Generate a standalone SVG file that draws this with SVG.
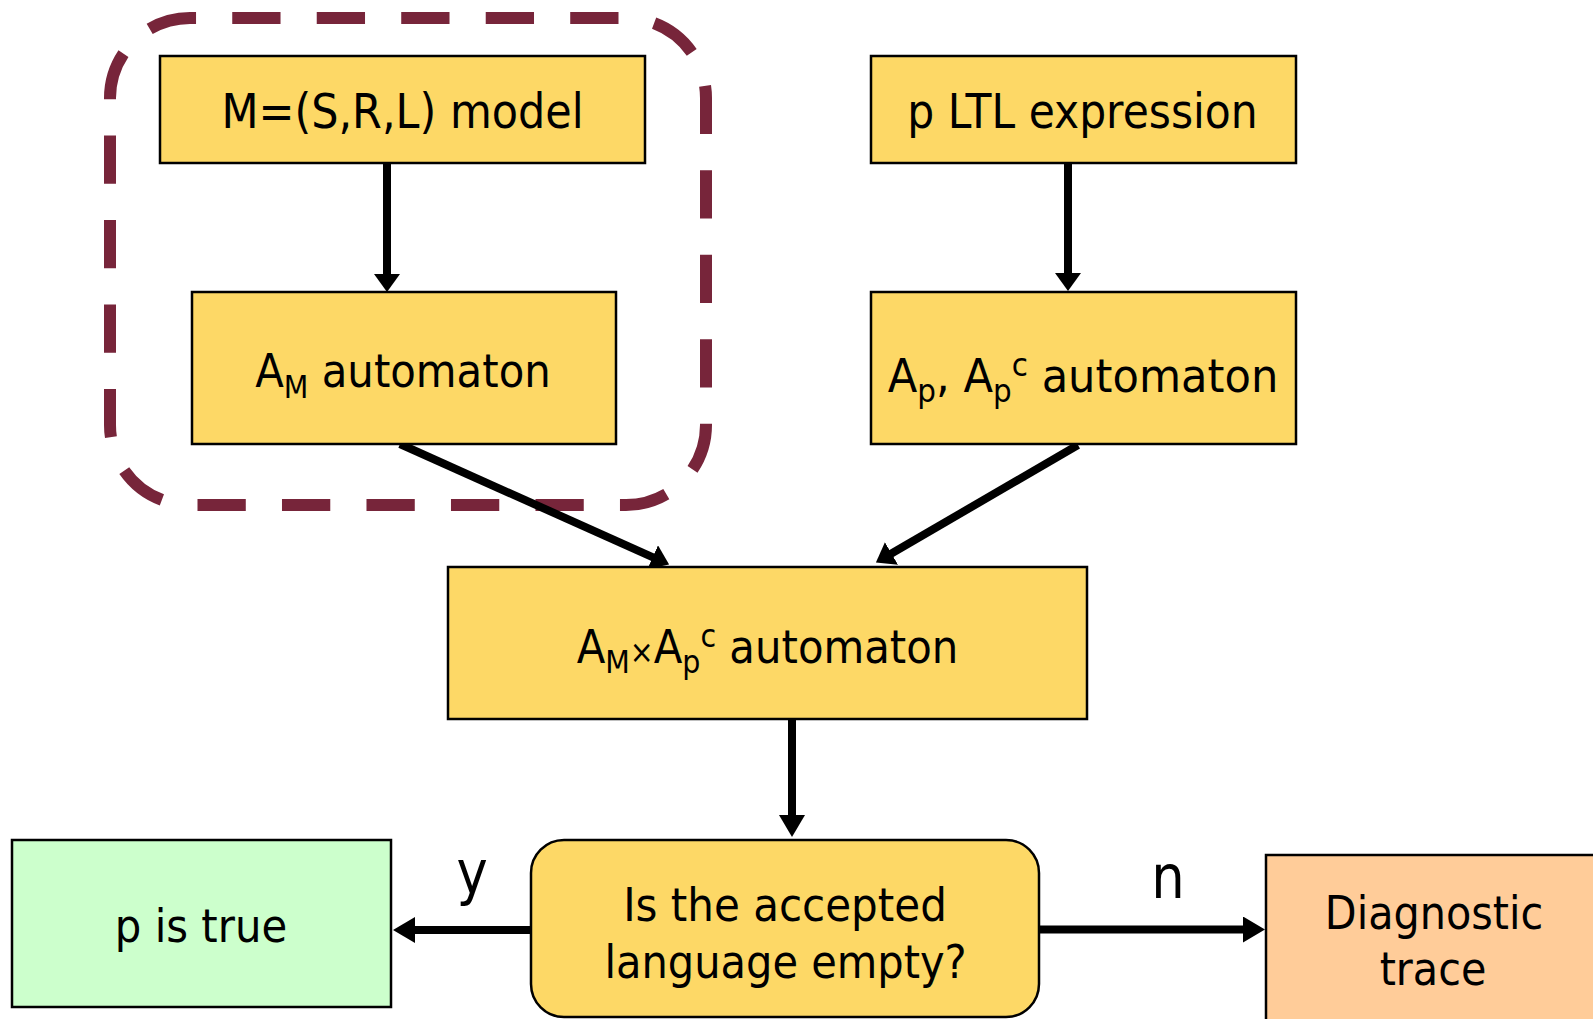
<svg xmlns="http://www.w3.org/2000/svg" width="1593" height="1019" viewBox="0 0 1593 1019">
  <style>
    .box { fill: #FDD866; stroke: #000; stroke-width: 2.5; }
    .green { fill: #CCFFCC; stroke: #000; stroke-width: 2.5; }
    .orange { fill: #FFCC99; stroke: #000; stroke-width: 2.5; }
    .t { font-family: "DejaVu Sans", "Liberation Sans", sans-serif; font-size: 47px; fill: #000; text-anchor: middle; }
    .big { font-size: 48px; }
    .lbl { font-size: 60px; }
    .s { font-size: 32px; }
    .conn { stroke: #000; stroke-width: 8; fill: none; }
    .dash { fill: none; stroke: #77253A; stroke-width: 12; stroke-dasharray: 48 36; stroke-dashoffset: 42; }
  </style>
  <defs>
    <marker id="ah" viewBox="0 -13 18 26" refX="1" refY="0" markerWidth="18" markerHeight="26" markerUnits="userSpaceOnUse" orient="auto">
      <path d="M0,-13 L18,0 L0,13 Z" fill="#000"/>
    </marker>
    <marker id="ah2" viewBox="0 -13 22 26" refX="1" refY="0" markerWidth="22" markerHeight="26" markerUnits="userSpaceOnUse" orient="auto">
      <path d="M0,-13 L22,0 L0,13 Z" fill="#000"/>
    </marker>
  </defs>

  <path id="group-frame" class="dash" pathLength="2016" d="M190,18 H626 A80,80 0 0 1 706,98 V425 A80,80 0 0 1 626,505 H190 A80,80 0 0 1 110,425 V98 A80,80 0 0 1 190,18 Z"/>

  <g id="connectors">
    <line class="conn" x1="387" y1="163" x2="387" y2="275" marker-end="url(#ah)"/>
    <line class="conn" x1="1068" y1="163" x2="1068" y2="274" marker-end="url(#ah)"/>
    <line class="conn" x1="400" y1="444" x2="653.6" y2="557.6" marker-end="url(#ah)"/>
    <line class="conn" x1="1078" y1="445" x2="890.6" y2="554" marker-end="url(#ah)"/>
    <line class="conn" x1="792" y1="719" x2="792" y2="816" marker-end="url(#ah2)"/>
    <line class="conn" x1="531" y1="930" x2="414" y2="930" marker-end="url(#ah2)"/>
    <line class="conn" x1="1039" y1="929.5" x2="1244" y2="929.5" marker-end="url(#ah2)"/>
    <text class="t lbl" transform="translate(472,893) scale(0.88,1)">y</text>
    <text class="t lbl" transform="translate(1168,898) scale(0.88,1)">n</text>
  </g>

  <g id="model">
    <rect class="box" x="160" y="56" width="485" height="107"/>
    <text class="t big" transform="translate(402.5,128) scale(0.895,1)">M=(S,R,L) model</text>
  </g>

  <g id="ltl">
    <rect class="box" x="871" y="56" width="425" height="107"/>
    <text class="t big" transform="translate(1082.5,128) scale(0.885,1)">p LTL expression</text>
  </g>

  <g id="am-automaton">
    <rect class="box" x="192" y="292" width="424" height="152"/>
    <text class="t" transform="translate(403,387) scale(0.89,1)">A<tspan class="s" dy="11">M</tspan><tspan dy="-11"> automaton</tspan></text>
  </g>

  <g id="ap-automaton">
    <rect class="box" x="871" y="292" width="425" height="152"/>
    <text class="t" transform="translate(1083,392) scale(0.92,1)">A<tspan class="s" dy="10">p</tspan><tspan dy="-10">, A</tspan><tspan class="s" dy="10">p</tspan><tspan class="s" dy="-26">c</tspan><tspan dy="16"> automaton</tspan></text>
  </g>

  <g id="product">
    <rect class="box" x="448" y="567" width="639" height="152"/>
    <text class="t" transform="translate(767.5,663) scale(0.89,1)">A<tspan class="s" dy="10">M</tspan><tspan class="s" dy="-10">×</tspan>A<tspan class="s" dy="10">p</tspan><tspan class="s" dy="-26">c</tspan><tspan dy="16"> automaton</tspan></text>
  </g>

  <g id="decision">
    <rect class="box" x="531" y="840" width="508" height="177" rx="33" ry="33"/>
    <text class="t" transform="translate(785,921) scale(0.895,1)">Is the accepted</text>
    <text class="t" transform="translate(785.5,978) scale(0.885,1)">language empty?</text>
  </g>

  <g id="p-true">
    <rect class="green" x="12" y="840" width="379" height="167"/>
    <text class="t" transform="translate(201,942) scale(0.89,1)">p is true</text>
  </g>

  <g id="diagnostic">
    <rect class="orange" x="1266" y="855" width="340" height="180"/>
    <text class="t" transform="translate(1434,929) scale(0.88,1)">Diagnostic</text>
    <text class="t" transform="translate(1433,985) scale(0.88,1)">trace</text>
  </g>
</svg>
